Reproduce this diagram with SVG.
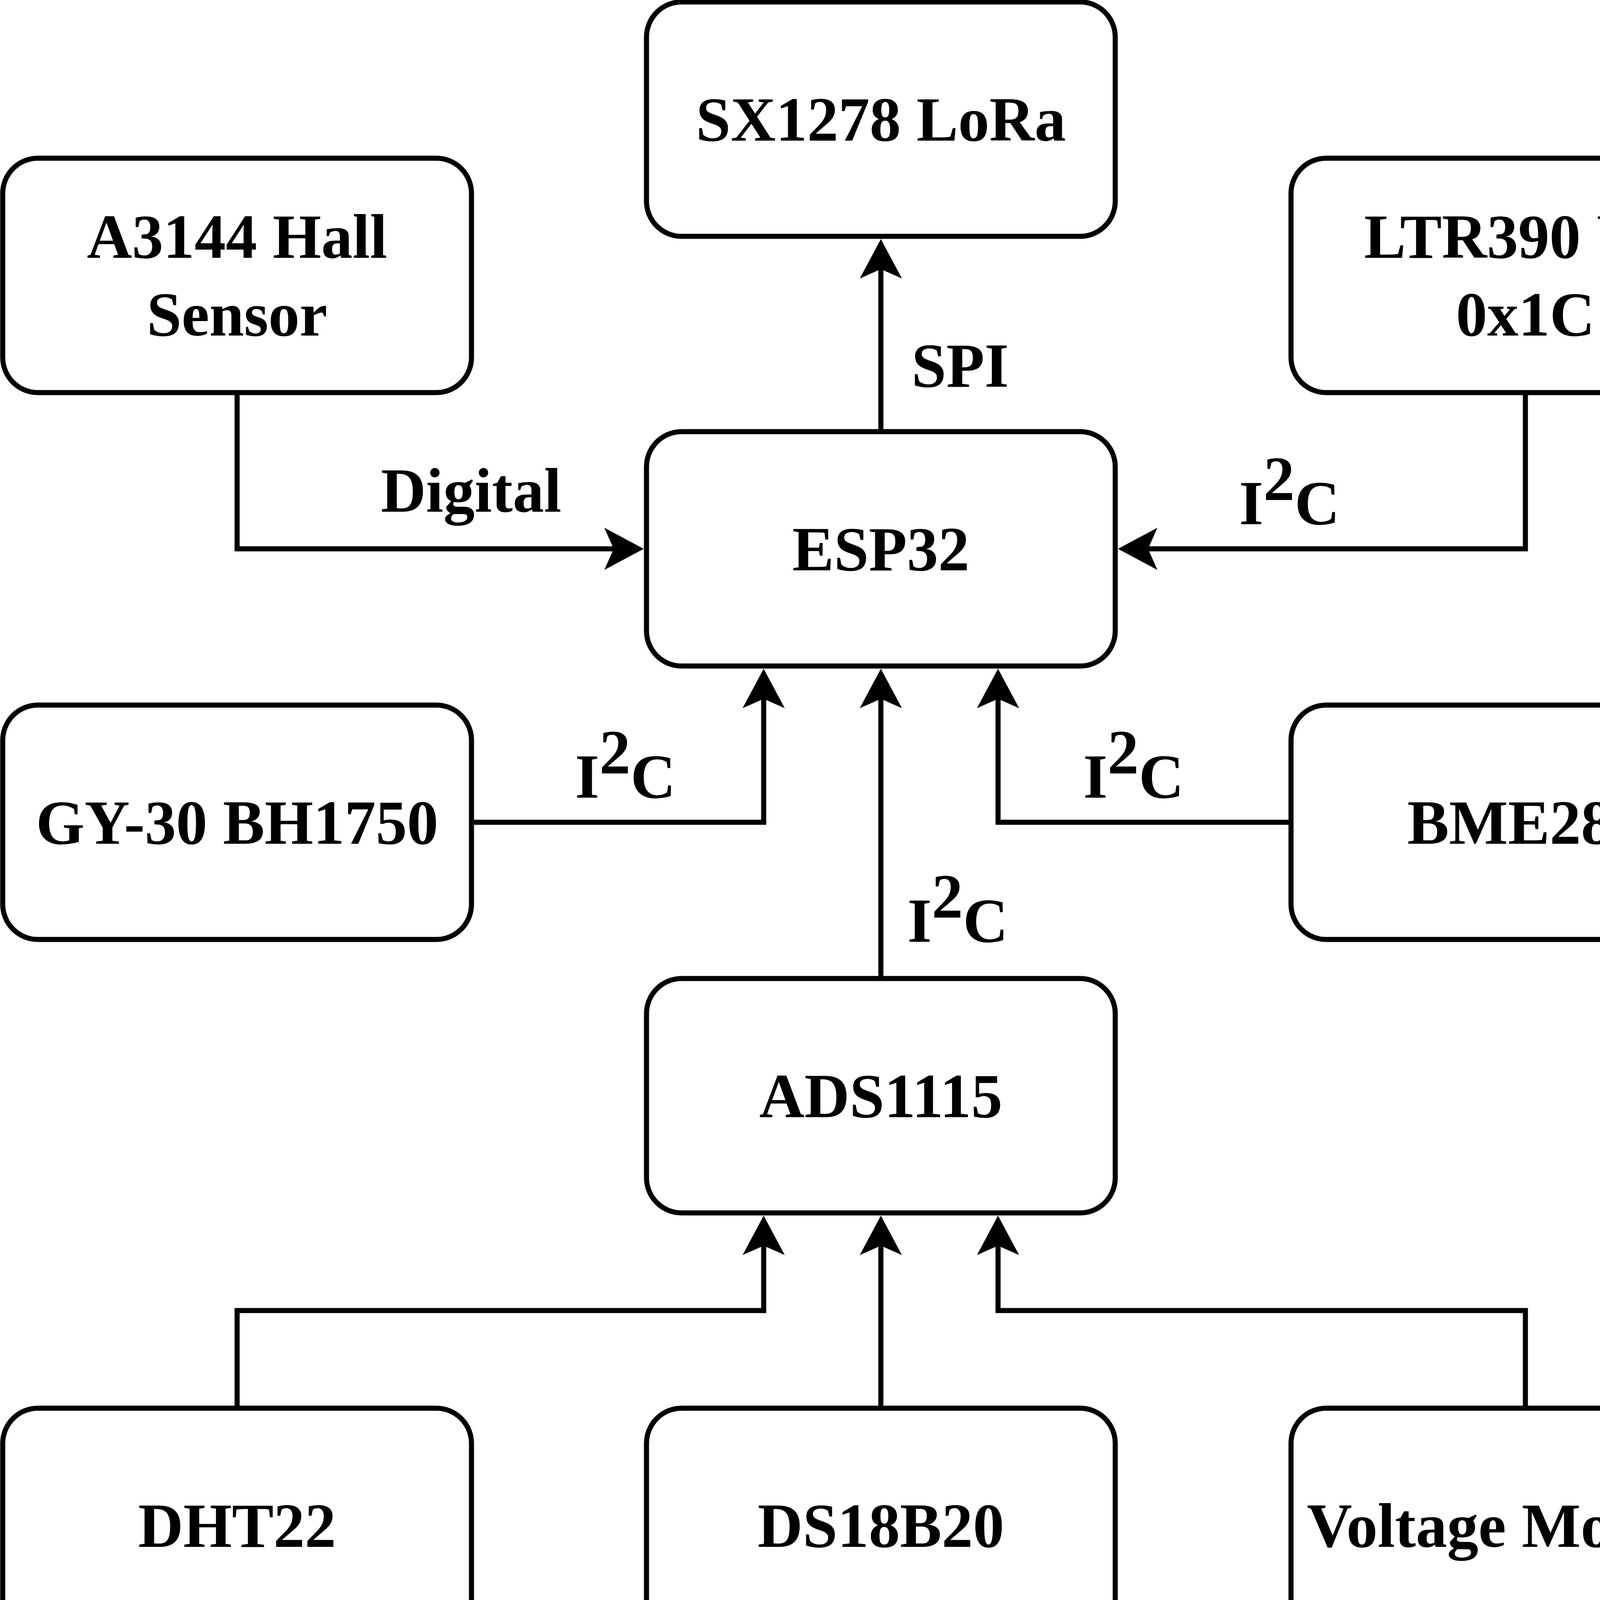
<svg xmlns="http://www.w3.org/2000/svg" width="4520" height="4220" viewBox="0 0 4520 4220">
<style>
.box{fill:#fff;stroke:#000;stroke-width:13}
.t{font-family:"Liberation Serif","Times New Roman",serif;font-weight:bold;font-size:160px;fill:#000;text-anchor:middle}
.e{fill:none;stroke:#000;stroke-width:13;marker-end:url(#arr)}
</style>
<defs>
<marker id="arr" markerUnits="userSpaceOnUse" markerWidth="120" markerHeight="120" viewBox="-30 -60 120 120" refX="0" refY="0" orient="auto" overflow="visible">
<path d="M77 0 L-24 -54 L0 0 L-24 54 Z" fill="#000"/>
</marker>
</defs>
<rect width="4520" height="4220" fill="#fff"/>
<g id="connectors">
<path class="e" d="M2255 1105 V689"/>
<path class="e" d="M607 1005 V1405 H1571"/>
<path class="e" d="M3905 1005 V1405 H2939"/>
<path class="e" d="M1207 2105 H1955 V1789"/>
<path class="e" d="M3305 2105 H2555 V1789"/>
<path class="e" d="M2255 2505 V1789"/>
<path class="e" d="M607 3605 V3355 H1955 V3189"/>
<path class="e" d="M2255 3605 V3189"/>
<path class="e" d="M3905 3605 V3355 H2555 V3189"/>
<text class="t" x="2458" y="990">SPI</text>
<text class="t" x="1206" y="1310">Digital</text>
<text class="t" x="3301" y="1342">I<tspan dy="-62">2</tspan><tspan dy="62">C</tspan></text>
<text class="t" x="1601" y="2042">I<tspan dy="-62">2</tspan><tspan dy="62">C</tspan></text>
<text class="t" x="2902" y="2042">I<tspan dy="-62">2</tspan><tspan dy="62">C</tspan></text>
<text class="t" x="2452" y="2411">I<tspan dy="-62">2</tspan><tspan dy="62">C</tspan></text>
</g>
<g id="sx1278"><rect class="box" x="1655" y="5" width="1200" height="600" rx="90"/><text class="t" x="2255" y="360">SX1278 LoRa</text></g>
<g id="a3144"><rect class="box" x="7" y="405" width="1200" height="600" rx="90"/><text class="t" x="607" y="660">A3144 Hall</text><text class="t" x="607" y="859">Sensor</text></g>
<g id="ltr390"><rect class="box" x="3305" y="405" width="1200" height="600" rx="90"/><text class="t" x="3905" y="660">LTR390 UV</text><text class="t" x="3905" y="859">0x1C</text></g>
<g id="esp32"><rect class="box" x="1655" y="1105" width="1200" height="600" rx="90"/><text class="t" x="2255" y="1460">ESP32</text></g>
<g id="gy30"><rect class="box" x="7" y="1805" width="1200" height="600" rx="90"/><text class="t" x="607" y="2160">GY-30 BH1750</text></g>
<g id="bme280"><rect class="box" x="3305" y="1805" width="1200" height="600" rx="90"/><text class="t" x="3905" y="2160">BME280</text></g>
<g id="ads1115"><rect class="box" x="1655" y="2505" width="1200" height="600" rx="90"/><text class="t" x="2255" y="2860">ADS1115</text></g>
<g id="dht22"><rect class="box" x="7" y="3605" width="1200" height="600" rx="90"/><text class="t" x="607" y="3960">DHT22</text></g>
<g id="ds18b20"><rect class="box" x="1655" y="3605" width="1200" height="600" rx="90"/><text class="t" x="2255" y="3960">DS18B20</text></g>
<g id="voltage"><rect class="box" x="3305" y="3605" width="1200" height="600" rx="90"/><text class="t" x="3905" y="3960">Voltage Monitor</text></g>
</svg>
